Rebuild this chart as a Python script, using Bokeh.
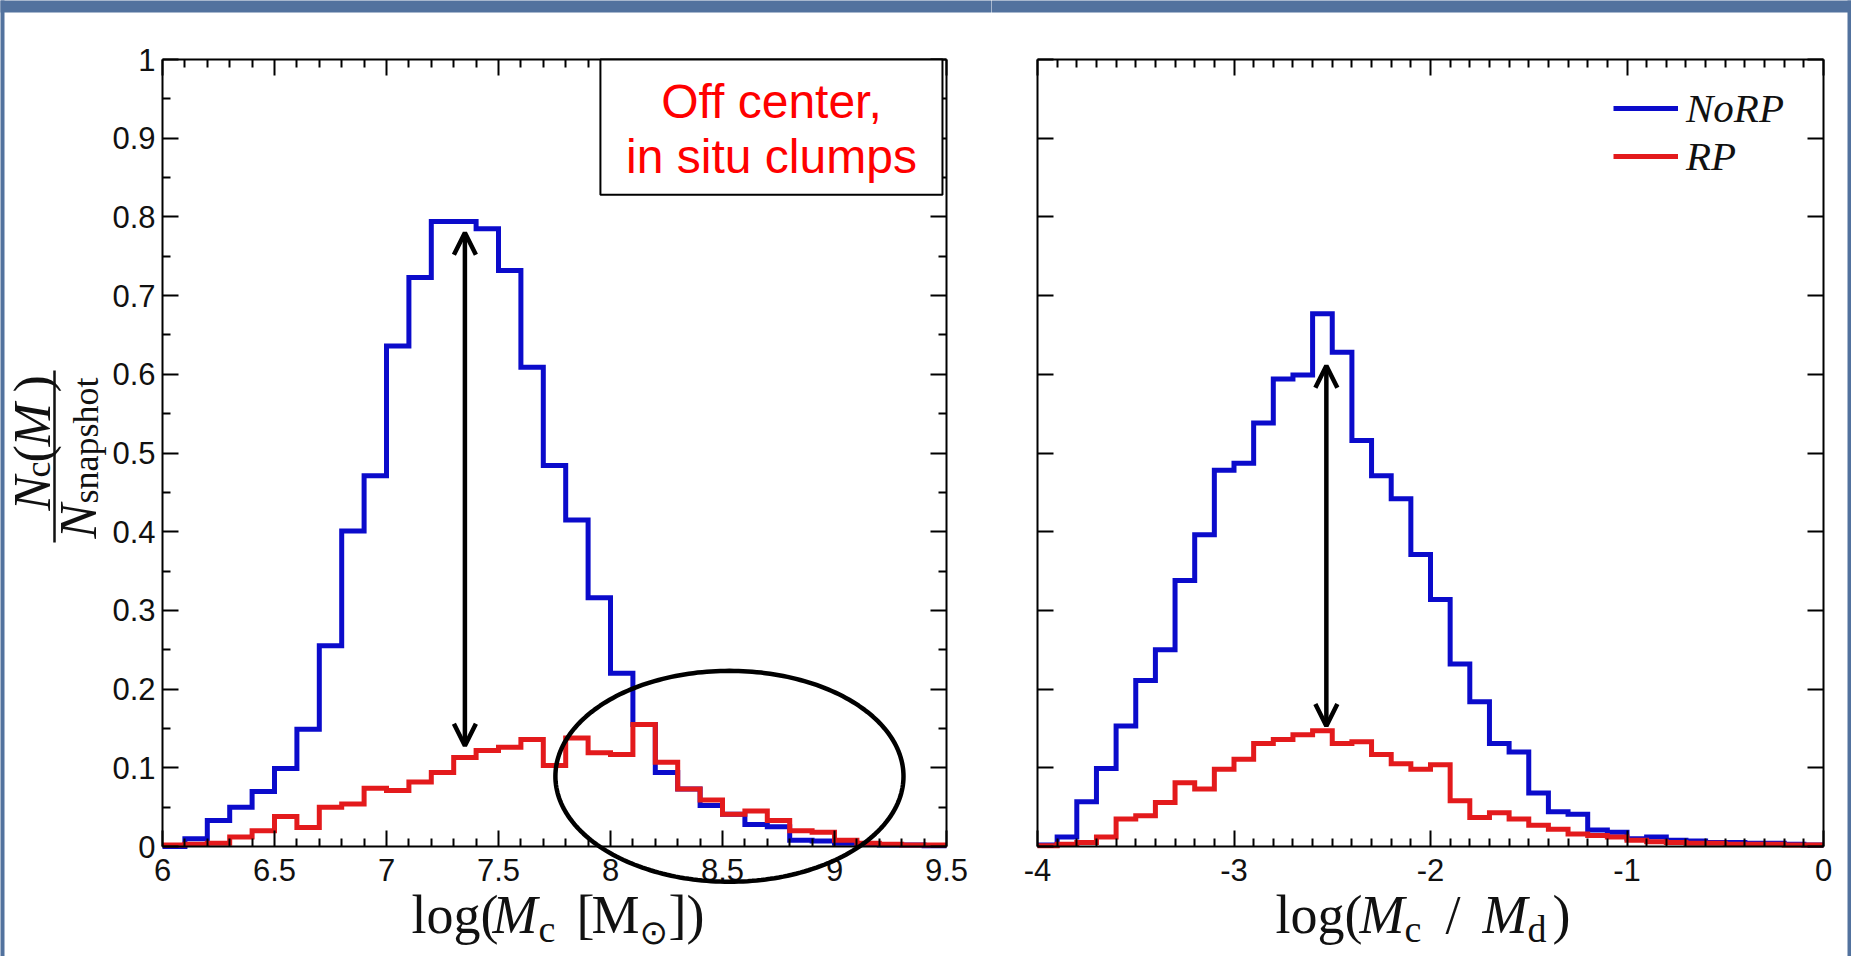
import numpy as np
from bokeh.plotting import figure
from bokeh.models import (Range1d, FixedTicker, LinearAxis, Label, Arrow, OpenHead,
                          BoxAnnotation, PolyAnnotation, Legend, LegendItem)
from bokeh.layouts import row
from bokeh.embed import file_html
from bokeh.resources import INLINE

# ---------------- data ----------------
bin_width = 0.1
mass_lo, mass_hi = 6.0, 9.5
ratio_lo, ratio_hi = -4.0, 0.0
frac_lo, frac_hi = 0.0, 1.0

# left panel: log(Mc [Msun]) histograms, 35 bins of 0.1 from 6.0
mass_norp = [0.000, 0.010, 0.033, 0.050, 0.070, 0.099, 0.149, 0.255, 0.401, 0.471,
             0.636, 0.723, 0.794, 0.794, 0.785, 0.732, 0.609, 0.484, 0.415, 0.316,
             0.220, 0.155, 0.094, 0.073, 0.052, 0.041, 0.028, 0.025, 0.008, 0.007,
             0.004, 0.003, 0.002, 0.002, 0.001]
mass_rp = [0.002, 0.003, 0.004, 0.012, 0.020, 0.038, 0.024, 0.050, 0.054, 0.074,
           0.071, 0.082, 0.094, 0.113, 0.122, 0.126, 0.136, 0.103, 0.138, 0.119,
           0.117, 0.155, 0.107, 0.073, 0.059, 0.041, 0.045, 0.033, 0.020, 0.018,
           0.008, 0.004, 0.003, 0.002, 0.002]

# right panel: log(Mc / Md) histograms, 40 bins of 0.1 from -4.0
ratio_norp = [0.002, 0.012, 0.057, 0.099, 0.153, 0.211, 0.250, 0.338, 0.396, 0.478,
              0.487, 0.538, 0.594, 0.599, 0.677, 0.628, 0.516, 0.471, 0.442, 0.371,
              0.314, 0.232, 0.184, 0.131, 0.120, 0.068, 0.044, 0.041, 0.021, 0.018,
              0.010, 0.012, 0.008, 0.007, 0.005, 0.005, 0.004, 0.004, 0.003, 0.002]
ratio_rp = [0.001, 0.003, 0.005, 0.012, 0.035, 0.039, 0.056, 0.081, 0.073, 0.098,
            0.111, 0.131, 0.136, 0.142, 0.147, 0.131, 0.133, 0.117, 0.105, 0.098,
            0.104, 0.058, 0.037, 0.043, 0.035, 0.027, 0.022, 0.016, 0.014, 0.012,
            0.008, 0.006, 0.005, 0.004, 0.004, 0.003, 0.003, 0.003, 0.002, 0.002]

series_names = ["NoRP", "RP"]

left_xticks = [6, 6.5, 7, 7.5, 8, 8.5, 9, 9.5]
left_xtick_labels = ["6", "6.5", "7", "7.5", "8", "8.5", "9", "9.5"]
right_xticks = [-4, -3, -2, -1, 0]
right_xtick_labels = ["-4", "-3", "-2", "-1", "0"]
yticks = [0, 0.1, 0.2, 0.3, 0.4, 0.5, 0.6, 0.7, 0.8, 0.9, 1.0]
ytick_labels = ["0", "0.1", "0.2", "0.3", "0.4", "0.5", "0.6", "0.7", "0.8", "0.9", "1"]

# annotations (data units)
arrow_left = {"x": 7.35, "y0": 0.128, "y1": 0.780}
arrow_right = {"x": -2.53, "y0": 0.153, "y1": 0.611}
ellipse_left = {"cx": 8.531, "cy": 0.0892, "rx": 0.777, "ry": 0.134}
note_box = {"left": 7.955, "right": 9.482, "bottom": 0.828, "top": 1.0}
note_lines = ["Off center,", "in situ clumps"]

# ---------------- layout geometry (page pixels) ----------------
PAGE_W, PAGE_H = 1851, 956
BAND, STRIP = 12, 4
P1_X0, P1_W = 0, 991
P2_X0, P2_W = 991, 860
BOX_TOP, BOX_BOTTOM = 59, 846
L_BOX = (162, 946)
R_BOX = (1037, 1823)
MID = 0.34   # distance (em) from the text-box middle to the baseline

ppu_y = (BOX_BOTTOM - BOX_TOP) / (frac_hi - frac_lo)
y_start = frac_lo - (PAGE_H - BOX_BOTTOM) / ppu_y
y_end = frac_hi + BOX_TOP / ppu_y

def x_range_for(lo, hi, box, x0, w):
    ppu = (box[1] - box[0]) / (hi - lo)
    return lo - (box[0] - x0) / ppu, hi + (x0 + w - box[1]) / ppu, ppu

def page_x_to_data(X, lo, box, ppu):
    return lo + (X - box[0]) / ppu

def page_y_to_data(Y):
    return frac_lo + (BOX_BOTTOM - Y) / ppu_y

# ---------------- styling ----------------
BLUE = "#0B0BCB"
RED = "#E31A1C"
SLIDE = "#52729E"
LW = 5
SERIF = "Liberation Serif"

def edges(lo, n):
    return [round(lo + i * bin_width, 2) for i in range(n + 1)]

def minor_list(lo, hi, step, majors):
    vals = np.round(np.arange(lo, hi + step / 2, step), 3)
    return [float(v) for v in vals if not np.any(np.isclose(v, majors))]

def style_axis(ax, ticker, loc, bounds, labels=None, standoff=8):
    ax.ticker = ticker
    ax.fixed_location = loc
    ax.bounds = bounds
    ax.axis_line_width = 2
    ax.axis_line_color = "black"
    ax.major_tick_in = 16
    ax.major_tick_out = 0
    ax.minor_tick_in = 8
    ax.minor_tick_out = 0
    ax.major_tick_line_width = 2
    ax.minor_tick_line_width = 2
    ax.major_tick_line_color = "black"
    ax.minor_tick_line_color = "black"
    ax.major_label_text_font = "Liberation Sans"
    ax.major_label_text_font_size = "31px"
    ax.major_label_text_color = "#111111"
    ax.major_label_standoff = standoff
    ax.axis_label = None
    if labels is not None:
        ax.major_label_overrides = dict(zip(ticker.ticks, labels))
    else:
        ax.major_label_overrides = {t: "" for t in ticker.ticks}

def make_fig(x0, x1, w):
    p = figure(width=w, height=PAGE_H, x_range=Range1d(x0, x1), y_range=Range1d(y_start, y_end),
               output_backend="svg", toolbar_location=None, tools="",
               min_border=0, min_border_left=0, min_border_right=0, min_border_top=0, min_border_bottom=0,
               border_fill_color="white", background_fill_color="white", outline_line_color=None)
    p.xgrid.visible = False
    p.ygrid.visible = False
    return p

def add_box_axes(p, xt, yt, xlo, xhi, xlabels, ylabels):
    style_axis(p.xaxis[0], xt, frac_lo, (xlo, xhi), xlabels, standoff=12)
    style_axis(p.yaxis[0], yt, xlo, (frac_lo, frac_hi), ylabels, standoff=7)
    top = LinearAxis(); p.add_layout(top, "above")
    style_axis(top, xt, frac_hi, (xlo, xhi))
    right = LinearAxis(); p.add_layout(right, "right")
    style_axis(right, yt, xhi, (frac_lo, frac_hi))

def put_pieces(p, pieces, baseline, canvas_x0, rotated=False):
    """pieces: (text, start position along the run in page px, size, italic, baseline shift, font)"""
    for text, pos, size, italic, shift, font in pieces:
        anchor = baseline + shift - MID * size
        if rotated:
            x, y, ang = anchor - canvas_x0, PAGE_H - pos, np.pi / 2
        else:
            x, y, ang = pos - canvas_x0, PAGE_H - anchor, 0
        p.add_layout(Label(x=x, y=y, x_units="screen", y_units="screen", text=text, angle=ang,
                           text_font=font, text_font_size=f"{size}px",
                           text_font_style="italic" if italic else "normal",
                           text_align="left", text_baseline="middle", text_color="#111111"))

def add_slide_frame(p, xs, xe, left_strip=None, right_strip=None):
    band_bottom = page_y_to_data(BAND)
    p.add_layout(BoxAnnotation(left=xs - 1, right=xe + 1, bottom=band_bottom, top=y_end + 1,
                               fill_color=SLIDE, fill_alpha=1, line_alpha=0))
    if left_strip is not None:
        p.add_layout(BoxAnnotation(left=xs - 1, right=left_strip, bottom=y_start - 1, top=y_end + 1,
                                   fill_color=SLIDE, fill_alpha=1, line_alpha=0))
    if right_strip is not None:
        p.add_layout(BoxAnnotation(left=right_strip, right=xe + 1, bottom=y_start - 1, top=y_end + 1,
                                   fill_color=SLIDE, fill_alpha=1, line_alpha=0))

# ---------------- left panel ----------------
lx0, lx1, lppu = x_range_for(mass_lo, mass_hi, L_BOX, P1_X0, P1_W)
p1 = make_fig(lx0, lx1, P1_W)
mx = edges(mass_lo, len(mass_norp))
r1b = p1.step(mx, mass_norp + [mass_norp[-1]], mode="after", line_color=BLUE, line_width=LW, line_join="miter")
r1r = p1.step(mx, mass_rp + [mass_rp[-1]], mode="after", line_color=RED, line_width=LW, line_join="miter")

lx_tick = FixedTicker(ticks=left_xticks, minor_ticks=minor_list(mass_lo, mass_hi, 0.1, left_xticks))
ly_tick = FixedTicker(ticks=yticks, minor_ticks=minor_list(frac_lo, frac_hi, 0.05, yticks))
add_box_axes(p1, lx_tick, ly_tick, mass_lo, mass_hi, left_xtick_labels, ytick_labels)

p1.add_layout(Arrow(start=OpenHead(size=22, line_width=4.5, line_color="black"),
                    end=OpenHead(size=22, line_width=4.5, line_color="black"),
                    x_start=arrow_left["x"], y_start=arrow_left["y0"],
                    x_end=arrow_left["x"], y_end=arrow_left["y1"],
                    line_width=4.5, line_color="black"))

t = np.linspace(0, 2 * np.pi, 241)
p1.add_layout(PolyAnnotation(xs=list(ellipse_left["cx"] + ellipse_left["rx"] * np.cos(t)),
                             ys=list(ellipse_left["cy"] + ellipse_left["ry"] * np.sin(t)),
                             fill_color=None, fill_alpha=0, line_color="black", line_alpha=1,
                             line_width=4.5))

p1.add_layout(BoxAnnotation(left=note_box["left"], right=note_box["right"],
                            bottom=note_box["bottom"], top=note_box["top"],
                            fill_color="white", fill_alpha=1, line_color="black", line_width=2, line_alpha=1))
for txt, ybase in zip(note_lines, [117, 172]):
    p1.add_layout(Label(x=771 - P1_X0, y=PAGE_H - (ybase - MID * 48), x_units="screen", y_units="screen",
                        text=txt, text_font="Liberation Sans", text_font_size="48px", text_color="#FF0000",
                        text_align="center", text_baseline="middle"))

# x label: log(M_c [M_sun])
put_pieces(p1, [("log(", 411, 54, False, 0, SERIF), ("M", 492, 54, True, 0, SERIF),
                ("c", 538, 38, False, 8, SERIF), ("[", 576, 54, False, 0, SERIF),
                ("M", 591, 54, False, 0, SERIF), ("\u2299", 639, 34, False, 10, "DejaVu Sans"),
                ("])", 668, 54, False, 0, SERIF)], 933, P1_X0)
# y label: N_c(M) / N_snapshot (rotated, reads bottom to top)
put_pieces(p1, [("N", 510, 52, True, 0, SERIF), ("c", 477, 36, False, 0, SERIF),
                ("(", 462, 52, False, 0, SERIF), ("M", 446, 52, True, 0, SERIF),
                (")", 392, 52, False, 0, SERIF)], 50, P1_X0, rotated=True)
put_pieces(p1, [("N", 538, 52, True, 0, SERIF), ("snapshot", 503, 36, False, 2, SERIF)], 96, P1_X0,
           rotated=True)
p1.add_layout(Arrow(start=None, end=None,
                    x_start=54 - P1_X0, y_start=PAGE_H - 542, x_end=54 - P1_X0, y_end=PAGE_H - 370,
                    start_units="screen", end_units="screen", line_width=2.5, line_color="#111111"))

add_slide_frame(p1, lx0, lx1, left_strip=page_x_to_data(STRIP, mass_lo, L_BOX, lppu))

# ---------------- right panel ----------------
rx0, rx1, rppu = x_range_for(ratio_lo, ratio_hi, R_BOX, P2_X0, P2_W)
p2 = make_fig(rx0, rx1, P2_W)
rxe = edges(ratio_lo, len(ratio_norp))
r2b = p2.step(rxe, ratio_norp + [ratio_norp[-1]], mode="after", line_color=BLUE, line_width=LW, line_join="miter")
r2r = p2.step(rxe, ratio_rp + [ratio_rp[-1]], mode="after", line_color=RED, line_width=LW, line_join="miter")

rx_tick = FixedTicker(ticks=right_xticks, minor_ticks=minor_list(ratio_lo, ratio_hi, 0.1, right_xticks))
ry_tick = FixedTicker(ticks=yticks, minor_ticks=[])
add_box_axes(p2, rx_tick, ry_tick, ratio_lo, ratio_hi, right_xtick_labels, None)

p2.add_layout(Arrow(start=OpenHead(size=22, line_width=4.5, line_color="black"),
                    end=OpenHead(size=22, line_width=4.5, line_color="black"),
                    x_start=arrow_right["x"], y_start=arrow_right["y0"],
                    x_end=arrow_right["x"], y_end=arrow_right["y1"],
                    line_width=4.5, line_color="black"))

legend = Legend(items=[LegendItem(label=series_names[0], renderers=[r2b]),
                       LegendItem(label=series_names[1], renderers=[r2r])],
                location=(1613 - P2_X0, PAGE_H - 180), orientation="vertical",
                glyph_width=65, glyph_height=40, label_height=40, label_standoff=8, spacing=0,
                padding=0, margin=0, background_fill_alpha=0, border_line_color=None,
                label_text_font=SERIF, label_text_font_style="italic", label_text_font_size="41px",
                label_text_baseline="middle", label_text_color="#111111")
p2.add_layout(legend)

put_pieces(p2, [("log(", 1275, 54, False, 0, SERIF), ("M", 1359, 54, True, 0, SERIF),
                ("c", 1404, 38, False, 8, SERIF), ("/", 1445, 54, False, 0, SERIF),
                ("M", 1482, 54, True, 0, SERIF), ("d", 1527, 38, False, 8, SERIF),
                (")", 1552, 54, False, 0, SERIF)], 933, P2_X0)

add_slide_frame(p2, rx0, rx1, right_strip=page_x_to_data(PAGE_W - STRIP, ratio_lo, R_BOX, rppu))

layout = row(p1, p2)
open("out.html", "w").write(file_html(layout, INLINE))
